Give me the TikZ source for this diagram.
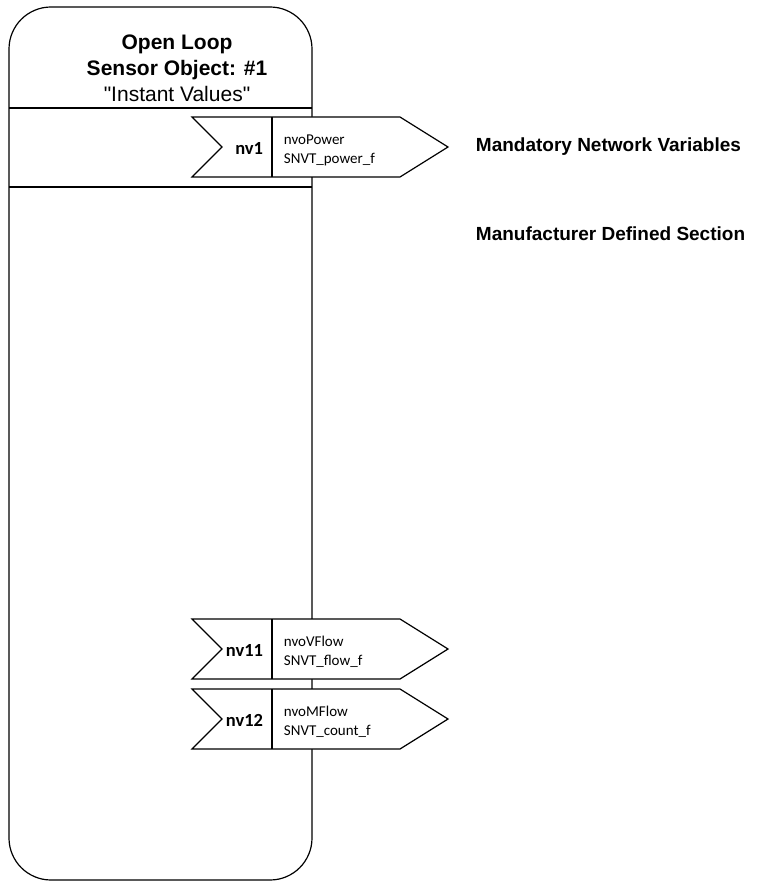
\documentclass[tikz,border=0pt]{standalone}
\usepackage{fontspec}
\setmainfont{Liberation Sans}
\newfontfamily\nvfont{Carlito}
\begin{document}
\begin{tikzpicture}[x=1pt,y=-1pt,line width=1.2pt,
	objtitle/.style={align=center,font=\fontsize{21}{26}\selectfont},
	sectionlabel/.style={anchor=west,font=\bfseries\fontsize{19}{23}\selectfont},
	nvnum/.style={anchor=east,font=\nvfont\bfseries\fontsize{18.5}{22}\selectfont},
	nvtext/.style={anchor=west,align=left,font=\nvfont\fontsize{15}{19}\selectfont},
	nvarrow/.style={draw=black,fill=white}]
	\useasboundingbox (0,0) rectangle (768,882);
	% object box
	\draw [rounded corners=42] (9,7) rectangle (312,880);
	\draw (9,108) -- (312,108);
	\draw (9,187) -- (312,187);
	\node [objtitle] (head) at (177,68) {\textbf{Open Loop}\\\textbf{Sensor Object: \#1}\\\textquotedbl Instant Values\textquotedbl};
	% network variables
	\foreach \y/\num/\nvname/\nvtype in {147/1/nvoPower/SNVT\_power\_f,649/11/nvoVFlow/SNVT\_flow\_f,719/12/nvoMFlow/SNVT\_count\_f} {
		\draw [nvarrow] (192,\y-30) -- (400,\y-30) -- (448,\y) -- (400,\y+30) -- (192,\y+30) -- (222,\y) -- cycle;
		\draw (272,\y-30) -- (272,\y+30);
		\node [nvnum] (nv\num) at (267,\y+1) {nv\num};
		\node [nvtext] (nvo\num) at (280,\y+3) {\nvname\\\nvtype};
	}
	\node [sectionlabel] (mandatory) at (472,147) {Mandatory Network Variables};
	\node [sectionlabel] (manufacturer) at (472,234) {Manufacturer Defined Section};
\end{tikzpicture}
\end{document}
